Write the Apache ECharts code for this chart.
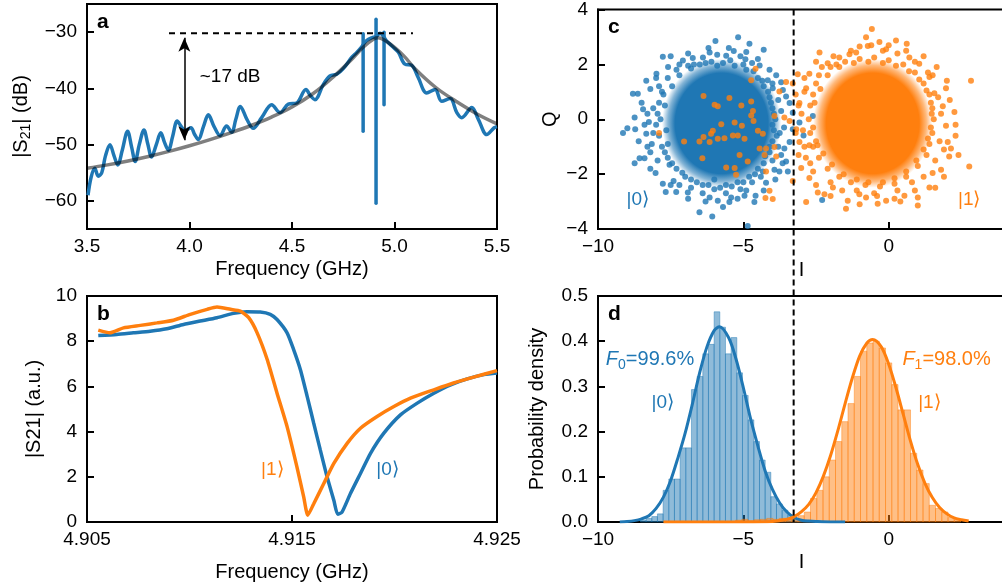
<!DOCTYPE html>
<html><head><meta charset="utf-8">
<script src="https://cdn.jsdelivr.net/npm/echarts@6/dist/echarts.min.js"></script>
<style>html,body{margin:0;padding:0;overflow:hidden;background:#fff}#c{width:1010px;height:588px}</style>
</head><body><div id="c"></div>
<script>
// ---------- Panel a : transmission spectrum ----------
const aFreq = [3.505,3.52,3.538,3.555,3.572,3.59,3.612,3.632,3.650,3.672,3.698,3.718,3.735,3.755,3.778,3.796,3.815,3.838,3.860,3.878,3.897,3.918,3.940,3.960,3.978,4.007,4.025,4.043,4.068,4.092,4.120,4.149,4.181,4.206,4.226,4.248,4.280,4.311,4.352,4.401,4.441,4.482,4.523,4.568,4.590,4.612,4.653,4.685,4.718,4.750,4.791,4.816,4.840,4.864,4.889,4.910,4.929,4.962,4.994,5.019,5.051,5.084,5.116,5.157,5.198,5.230,5.271,5.304,5.328,5.377,5.409,5.45,5.486,5.50];
const aS21 = [-59.0,-55.8,-54.2,-55.6,-55.0,-52.0,-50.0,-52.0,-53.6,-51.0,-47.6,-50.5,-53.0,-50.0,-47.4,-49.8,-52.2,-50.0,-47.9,-49.6,-51.0,-48.5,-45.8,-46.8,-47.5,-47.0,-48.2,-49.1,-46.8,-44.7,-46.8,-48.4,-46.7,-47.8,-45.5,-43.2,-45.5,-47.1,-45.2,-42.9,-44.3,-42.8,-42.6,-40.2,-41.3,-42.0,-39.3,-37.8,-37.5,-36.5,-34.5,-33.6,-32.6,-31.5,-31.0,-30.8,-30.2,-31.6,-32.7,-33.6,-35.7,-35.9,-38.1,-40.8,-40.2,-42.3,-41.8,-44.3,-45.2,-43.4,-45.5,-48.2,-47.0,-46.8];
const spikeFreq = [4.847, 4.910, 4.949];
const spikeTop = [-30.3, -27.7, -30.0];
const spikeBottom = [-47.6, -60.4, -42.9];
const aFitFreq = [3.5,3.6,3.7,3.8,3.9,4.0,4.1,4.2,4.3,4.4,4.5,4.6,4.7,4.8,4.85,4.9,4.92,4.95,5.0,5.05,5.1,5.2,5.3,5.4,5.5];
const aFitDb = [-54.2,-53.6,-52.9,-52.1,-51.2,-50.2,-49.1,-47.9,-46.6,-45.1,-43.3,-41.0,-38.0,-34.5,-32.6,-31.2,-31.0,-31.4,-32.7,-34.4,-36.5,-39.8,-42.3,-44.5,-46.3];
const aRefLevel = -30.2, aRefFrom = 3.9, aRefTo = 5.09;
const aArrowF = 3.975, aArrowTop = -31.0, aArrowBottom = -49.2;
const aXTicks = [3.5,4.0,4.5,5.0,5.5];
const aYTicks = [-60,-50,-40,-30];

// ---------- Panel b : resonator dip for |0> and |1> ----------
const bFreq0 = [4.90555,4.90645,4.90726,4.90808,4.90889,4.90971,4.91052,4.91134,4.91215,4.9128,4.91345,4.91394,4.91427,4.91476,4.91508,4.91541,4.91574,4.91606,4.91638,4.91671,4.91704,4.91723,4.91744,4.91785,4.91834,4.91883,4.91948,4.92029,4.92111,4.92192,4.92274,4.92355,4.92436,4.925];
const bAmp0 = [8.25,8.30,8.37,8.44,8.55,8.74,8.89,9.04,9.23,9.30,9.29,9.19,8.96,8.37,7.63,6.74,5.56,4.37,3.19,2.00,0.96,0.34,0.44,1.26,2.15,3.04,3.93,4.74,5.26,5.70,6.07,6.33,6.52,6.59];
const bFreq1 = [4.90555,4.90612,4.90678,4.9076,4.90841,4.90922,4.91004,4.91086,4.91134,4.912,4.91248,4.91289,4.9133,4.91379,4.91427,4.91476,4.91524,4.91557,4.91577,4.91606,4.91655,4.91704,4.91769,4.91834,4.91915,4.91997,4.92078,4.92192,4.92288,4.92386,4.925];
const bAmp1 = [8.49,8.37,8.59,8.70,8.81,8.93,9.19,9.41,9.51,9.41,9.33,9.04,8.37,7.19,5.70,4.22,2.44,1.11,0.30,0.81,1.70,2.59,3.48,4.15,4.67,5.11,5.48,5.85,6.15,6.41,6.70];
const bXTicks = [4.905,4.915,4.925];

// ---------- Panel c : IQ single-shot clouds ----------
const thresholdI = -3.27;
const blueCore = [[-5.75,-0.15,2.05,2.35]];
const orangeCore = [[-0.55,-0.15,2.05,2.35]];
const blueDots = [[-5.96,2.85],[-5.18,2.99],[-4.79,2.75],[-4.30,2.53],[-5.33,2.49],[-6.16,2.43],[-7.77,2.28],[-6.39,2.25],[-8.34,1.40],[-7.99,1.66],[-7.59,1.90],[-7.08,2.14],[-6.74,2.23],[-5.59,2.31],[-4.93,2.19],[-4.44,1.96],[-3.87,1.60],[-8.80,0.93],[-8.63,0.93],[-8.45,0.36],[-8.74,0.06],[-8.99,-0.33],[-9.14,-0.50],[-8.72,-0.36],[-8.34,-0.53],[-8.57,-1.42],[-8.74,-1.60],[-8.40,-1.42],[-8.02,-1.96],[-7.54,-1.66],[-7.77,-2.35],[-7.67,-2.65],[-7.31,-2.65],[-6.91,-2.67],[-6.51,-3.39],[-6.07,-3.54],[-6.16,-2.85],[-5.88,-2.97],[-5.48,-3.02],[-5.42,-2.85],[-4.96,-2.79],[-4.62,-3.02],[-4.58,-2.79],[-4.85,-3.89],[-4.22,-2.31],[-4.33,-1.90],[-3.93,-1.84],[-3.76,-1.90],[-3.47,-1.90],[-2.29,-2.94],[-3.41,-0.83],[-3.59,-1.07],[-3.53,-1.54],[-3.70,-1.30],[-3.30,-0.36],[-3.30,0.24],[-3.41,0.59],[-3.53,0.83],[-3.64,1.07],[-3.99,1.13],[-4.16,1.42],[-2.61,0.12],[-2.93,-0.59],[-3.07,-0.12],
[-7.6,1.5],[-7.3,1.8],[-6.9,1.95],[-6.5,2.0],[-6.1,2.1],[-5.7,2.05],[-5.3,1.95],[-4.9,1.8],[-4.5,1.5],[-4.3,1.2],[-4.1,0.8],[-4.0,0.4],[-3.9,0.0],[-3.95,-0.4],[-4.0,-0.8],[-4.1,-1.2],[-4.3,-1.6],[-4.6,-2.0],[-5.0,-2.3],[-5.4,-2.45],[-5.8,-2.5],[-6.2,-2.4],[-6.6,-2.3],[-7.0,-2.1],[-7.3,-1.8],[-7.6,-1.4],[-7.8,-1.0],[-7.9,-0.6],[-8.0,-0.2],[-7.95,0.2],[-7.9,0.6],[-7.8,1.0],
[-8.2,1.1],[-8.1,0.4],[-8.25,-0.1],[-8.15,-0.9],[-7.95,-1.5],[-7.4,-2.25],[-6.8,-2.5],[-6.4,-2.7],[-5.6,-2.7],[-5.1,-2.55],[-4.7,-2.3],[-4.4,-2.1],[-4.0,-1.5],[-3.8,-1.0],[-3.75,-0.5],[-3.7,0.3],[-3.8,0.7],[-4.0,1.3],[-4.7,2.05],[-5.1,2.3],[-5.9,2.35],[-6.7,2.0],[-7.2,2.0],[-7.9,1.2],[-8.5,0.6],[-8.4,-0.2],[-8.2,-1.2],[-7.2,-2.4],[-6.0,-2.2],[-4.9,-2.6],
[-7.7,0.5],[-7.65,-0.4],[-7.6,-0.9],[-7.45,1.2],[-7.2,1.6],[-6.8,1.85],[-6.3,2.05],[-5.9,1.95],[-5.45,2.15],[-5.0,2.0],[-4.65,1.75],[-4.35,1.4],[-4.15,1.0],[-4.05,0.6],[-3.95,0.2],[-4.0,-0.2],[-3.85,-0.6],[-4.1,-1.0],[-4.25,-1.35],[-4.5,-1.8],[-4.8,-2.1],[-5.2,-2.3],[-5.6,-2.4],[-6.0,-2.55],[-6.4,-2.4],[-6.8,-2.2],[-7.1,-1.95],[-7.45,-1.6],[-7.7,-1.2],[-7.85,0.0],[-7.75,0.9],
[-8.3,0.2],[-8.1,-0.5],[-8.3,-1.0],[-8.0,1.5],[-7.5,2.3],[-6.9,2.4],[-6.2,2.6],[-5.5,2.6],[-4.9,2.45],[-4.5,2.2],[-4.1,1.8],[-3.7,1.35],[-3.6,-0.3],[-3.65,-1.6],[-3.9,-2.2],[-4.3,-2.6],[-5.2,-2.9],[-5.7,-3.2],[-6.3,-3.0],[-6.9,-2.9],[-7.5,-2.4],[-8.2,-1.8],[-8.6,-0.8]];
const orangeDots = [[-0.58,3.29],[-0.78,2.99],[0.25,2.87],[0.62,2.75],[-0.32,2.82],[-0.09,2.55],[-0.72,2.67],[-1.12,2.43],[-1.70,2.25],[-2.38,2.43],[-2.10,2.04],[-2.73,1.66],[-3.13,1.64],[-3.30,1.30],[-3.53,1.36],[-3.76,1.01],[-2.84,1.13],[-1.35,2.37],[0.71,2.25],[1.05,2.02],[1.40,1.54],[1.51,1.60],[1.97,1.13],[1.57,0.95],[2.26,0.26],[1.86,0.47],[2.83,1.40],[1.97,-0.24],[2.03,-0.83],[2.08,-1.36],[2.14,-1.07],[2.77,-1.72],[1.80,-1.84],[1.51,-1.96],[1.40,-2.49],[1.00,-2.85],[1.00,-3.14],[0.54,-2.79],[-0.09,-2.97],[-0.38,-3.08],[-0.78,-2.85],[-1.01,-2.73],[-1.41,-2.97],[-1.47,-3.26],[-1.92,-2.49],[-2.21,-2.73],[-2.44,-2.67],[-2.84,-3.02],[-2.73,-2.14],[-3.01,-1.78],[-3.30,-2.25],[-3.99,-2.91],[-4.24,-2.87],[-4.10,-2.61],[-4.22,-1.90],[-3.07,-0.83],[-3.18,-0.36],[-3.41,-0.06],[-3.59,0.06],[-3.07,0.59],[-2.73,-0.95],
[-2.4,1.6],[-2.0,1.9],[-1.5,2.1],[-1.0,2.2],[-0.5,2.25],[0.0,2.15],[0.5,2.0],[0.9,1.7],[1.2,1.3],[1.4,0.9],[1.5,0.4],[1.55,0.0],[1.5,-0.5],[1.4,-0.9],[1.3,-1.3],[1.0,-1.7],[0.6,-2.1],[0.2,-2.35],[-0.3,-2.45],[-0.8,-2.4],[-1.3,-2.3],[-1.7,-2.1],[-2.1,-1.8],[-2.4,-1.4],[-2.6,-1.0],[-2.7,-0.5],[-2.75,0.0],[-2.7,0.5],[-2.6,0.9],[-2.5,1.3],
[-2.9,1.0],[-3.0,0.2],[-2.95,-0.4],[-2.85,-1.4],[-2.6,-1.9],[-2.0,-2.3],[-1.1,-2.6],[-0.5,-2.7],[0.3,-2.6],[0.8,-2.3],[1.2,-2.1],[1.6,-1.5],[1.75,-0.8],[1.8,0.2],[1.7,0.8],[1.35,1.7],[0.9,2.1],[0.3,2.4],[-0.2,2.5],[-1.3,2.5],[-1.8,2.0],[-2.3,1.9],[-2.9,-1.0],[-3.2,0.9],[1.9,-1.1],[0.2,-2.9],[-0.6,2.7],
[-2.55,0.6],[-2.6,-0.3],[-2.5,-0.8],[-2.35,1.1],[-2.1,1.6],[-1.7,1.9],[-1.2,2.05],[-0.7,2.1],[-0.2,2.05],[0.25,1.95],[0.7,1.75],[1.05,1.45],[1.3,1.05],[1.45,0.6],[1.48,0.2],[1.45,-0.3],[1.35,-0.7],[1.2,-1.1],[0.95,-1.5],[0.6,-1.9],[0.2,-2.15],[-0.2,-2.3],[-0.7,-2.3],[-1.1,-2.2],[-1.55,-2.0],[-1.95,-1.65],[-2.25,-1.25],[-2.45,-0.95],
[-3.1,0.5],[-3.2,-0.5],[-3.1,-1.3],[-2.9,1.5],[-2.5,2.1],[-1.9,2.3],[-1.0,2.65],[0.0,2.7],[0.6,2.5],[1.2,2.3],[1.65,1.9],[2.0,1.4],[2.1,0.7],[2.3,-0.2],[2.3,-0.6],[2.4,-1.3],[1.9,-2.1],[1.6,-2.5],[0.9,-2.6],[0.4,-3.0],[-0.4,-2.8],[-1.0,-3.1],[-1.6,-2.6],[-2.0,-2.8],[-2.5,-2.4],[-2.7,-1.6],
[-4.58,1.84],[-4.73,1.42],[-6.37,0.85],[-5.99,0.53],[-5.88,0.47],[-5.48,0.77],[-5.07,0.50],[-4.73,0.65],[-4.67,0.30],[-4.73,0.14],[-4.65,-0.06],[-5.30,-0.12],[-5.76,-0.18],[-5.05,-0.24],[-6.05,-0.42],[-6.11,-0.53],[-6.37,-0.65],[-5.88,-0.71],[-5.65,-0.69],[-5.36,-0.59],[-5.19,-0.59],[-4.96,-0.71],[-6.51,-0.81],[-6.16,-0.83],[-7.04,-0.81],[-7.90,-0.50],[-4.50,-0.42],[-4.33,-0.53],[-4.44,-1.07],[-4.22,-1.07],[-3.93,-1.01],[-5.13,-1.30],[-4.85,-1.54],[-4.27,-1.30],[-6.41,-1.42],[-5.59,-1.76],[-5.30,-1.78],[-5.25,-2.02],[-3.87,-1.36],[-3.93,0.12]];
const cdXTicks = [-10,-5,0];

// ---------- Panel d : histograms and fits ----------
const binWidth0 = 0.195;
const histLeft0 = [-8.54,-8.345,-8.15,-7.955,-7.76,-7.565,-7.37,-7.175,-6.98,-6.785,-6.59,-6.395,-6.20,-6.005,-5.81,-5.615,-5.42,-5.225,-5.03,-4.835,-4.64,-4.445,-4.25,-4.055,-3.86,-3.665,-3.47,-3.275,-3.08,-2.885];
const histHeight0 = [0.004,0.008,0.012,0.018,0.070,0.095,0.095,0.164,0.164,0.293,0.322,0.372,0.393,0.465,0.431,0.372,0.408,0.330,0.280,0.226,0.178,0.137,0.110,0.056,0.040,0.026,0.015,0.006,0.004,0.002];
const binWidth1 = 0.215;
const histLeft1 = [-5.27,-5.055,-4.84,-4.625,-4.41,-4.195,-3.98,-3.765,-3.55,-3.335,-3.12,-2.905,-2.69,-2.475,-2.26,-2.045,-1.83,-1.615,-1.40,-1.185,-0.97,-0.755,-0.54,-0.325,-0.11,0.105,0.32,0.535,0.75,0.965,1.18,1.395,1.61,1.825,2.04,2.255];
const histHeight1 = [0.004,0.006,0.003,0.005,0.006,0.008,0.006,0.008,0.006,0.008,0.014,0.022,0.052,0.070,0.100,0.137,0.178,0.222,0.262,0.322,0.378,0.396,0.400,0.385,0.352,0.304,0.248,0.248,0.152,0.115,0.085,0.037,0.030,0.022,0.010,0.005];
const fitI0 = [-9.25,-9.0,-8.75,-8.5,-8.25,-8.0,-7.75,-7.5,-7.25,-7.0,-6.75,-6.5,-6.25,-6.0,-5.82,-5.5,-5.25,-5.0,-4.75,-4.5,-4.25,-4.0,-3.75,-3.5,-3.25,-3.0,-2.75,-2.5,-2.0,-1.5];
const fitP0 = [0.000,0.001,0.003,0.007,0.014,0.030,0.055,0.092,0.142,0.197,0.262,0.331,0.388,0.424,0.432,0.407,0.360,0.297,0.228,0.168,0.113,0.072,0.042,0.022,0.010,0.004,0.002,0.001,0.000,0.000];
const fitI1 = [-7.75,-6.0,-5.0,-4.0,-3.5,-3.25,-3.0,-2.75,-2.5,-2.25,-2.0,-1.75,-1.5,-1.25,-1.0,-0.75,-0.55,-0.25,0.0,0.25,0.5,0.75,1.0,1.25,1.5,1.75,2.0,2.25,2.5,2.75];
const fitP1 = [0.000,0.000,0.000,0.001,0.006,0.012,0.023,0.039,0.065,0.101,0.147,0.202,0.262,0.319,0.367,0.396,0.404,0.387,0.349,0.297,0.238,0.179,0.127,0.085,0.054,0.032,0.018,0.009,0.005,0.002];

// ---------- styles ----------
const FONT = '"Liberation Sans", Arial, sans-serif';
const BLUE = '#1f77b4', ORANGE = '#ff7f0e';
const minus = v => String(v).replace('-', '\u2212');

function xAx(grid, min, max, ticks, fmt, name, gap) {
  return {
    type: 'value', gridIndex: grid, min, max,
    name, nameLocation: 'middle', nameGap: gap,
    nameTextStyle: { fontFamily: FONT, fontSize: 20, color: '#000' },
    axisLine: { show: true, onZero: false, lineStyle: { color: '#000', width: 2 } },
    axisTick: { show: true, inside: true, length: 7, customValues: ticks, lineStyle: { color: '#000', width: 2 } },
    axisLabel: { show: true, customValues: ticks, margin: 8, fontFamily: FONT, fontSize: 19, color: '#000', formatter: fmt },
    splitLine: { show: false }
  };
}
function yAx(grid, min, max, ticks, fmt, name, gap, rich) {
  const o = xAx(grid, min, max, ticks, fmt, name, gap);
  o.axisLabel.margin = 10;
  if (rich) o.nameTextStyle.rich = rich;
  return o;
}
const gridBox = { show: true, borderColor: '#000', borderWidth: 2, backgroundColor: 'transparent' };

const series = [];
// a
series.push({ type: 'line', xAxisIndex: 0, yAxisIndex: 0, data: aFreq.map((f, i) => [f, aS21[i]]), smooth: 0.35, showSymbol: false, lineStyle: { color: BLUE, width: 3.5 }, z: 2 });
spikeFreq.forEach((f, i) => {
  series.push({ type: 'line', xAxisIndex: 0, yAxisIndex: 0, data: [[f, spikeTop[i]], [f, spikeBottom[i]]], showSymbol: false, lineStyle: { color: BLUE, width: 3.5, cap: 'round' }, z: 2 });
});
series.push({ type: 'line', xAxisIndex: 0, yAxisIndex: 0, data: aFitFreq.map((f, i) => [f, aFitDb[i]]), smooth: 0.4, showSymbol: false, lineStyle: { color: 'rgba(0,0,0,0.5)', width: 3.5 }, z: 3 });
series.push({ type: 'line', xAxisIndex: 0, yAxisIndex: 0, data: [[aRefFrom, aRefLevel], [aRefTo, aRefLevel]], showSymbol: false, lineStyle: { color: '#000', width: 1.8, type: [6, 5] }, z: 4,
  markLine: { silent: true, symbol: ['arrow', 'arrow'], symbolSize: [9, 14], label: { show: false }, lineStyle: { color: '#000', width: 1.5, type: 'solid' },
    data: [[{ coord: [aArrowF, aArrowTop] }, { coord: [aArrowF, aArrowBottom] }]] } });
// b
series.push({ type: 'line', xAxisIndex: 1, yAxisIndex: 1, data: bFreq0.map((f, i) => [f, bAmp0[i]]), smooth: 0.2, showSymbol: false, lineStyle: { color: BLUE, width: 3.5 }, z: 2 });
series.push({ type: 'line', xAxisIndex: 1, yAxisIndex: 1, data: bFreq1.map((f, i) => [f, bAmp1[i]]), smooth: 0.2, showSymbol: false, lineStyle: { color: ORANGE, width: 3.5 }, z: 3 });
// c
function coreSeries(data, rgb, z) {
  return { type: 'custom', xAxisIndex: 2, yAxisIndex: 2, data, encode: { x: 0, y: 1 }, z, silent: true,
    renderItem: (p, api) => {
      const c = api.coord([api.value(0), api.value(1)]);
      const s = api.size([api.value(2), api.value(3)]);
      return { type: 'circle', x: c[0], y: c[1], scaleY: s[1] / s[0], shape: { cx: 0, cy: 0, r: s[0] },
        style: { fill: new echarts.graphic.RadialGradient(0.5, 0.5, 0.5, [
          { offset: 0, color: `rgba(${rgb},1)` }, { offset: 0.78, color: `rgba(${rgb},1)` },
          { offset: 0.9, color: `rgba(${rgb},0.55)` }, { offset: 1, color: `rgba(${rgb},0)` }]) } };
    } };
}
series.push(coreSeries(blueCore, '31,119,180', 1));
series.push({ type: 'scatter', xAxisIndex: 2, yAxisIndex: 2, data: blueDots, symbolSize: 6, itemStyle: { color: BLUE, opacity: 0.8 }, z: 2 });
series.push(coreSeries(orangeCore, '255,127,14', 3));
series.push({ type: 'scatter', xAxisIndex: 2, yAxisIndex: 2, data: orangeDots, symbolSize: 6, itemStyle: { color: ORANGE, opacity: 0.8 }, z: 4 });
// d
function histSeries(lefts, heights, w, fill, stroke) {
  return { type: 'custom', xAxisIndex: 3, yAxisIndex: 3, data: lefts.map((l, i) => [l, l + w, heights[i]]), encode: { x: [0, 1], y: 2 }, z: 1, silent: true,
    renderItem: (p, api) => {
      const a = api.coord([api.value(0), api.value(2)]);
      const b = api.coord([api.value(1), 0]);
      return { type: 'rect', shape: { x: a[0], y: a[1], width: b[0] - a[0], height: b[1] - a[1] }, style: { fill, stroke, lineWidth: 0.8 } };
    } };
}
series.push(histSeries(histLeft0, histHeight0, binWidth0, 'rgba(31,119,180,0.5)', 'rgba(31,119,180,0.55)'));
series.push(histSeries(histLeft1, histHeight1, binWidth1, 'rgba(255,127,14,0.5)', 'rgba(255,127,14,0.55)'));
series.push({ type: 'line', xAxisIndex: 3, yAxisIndex: 3, data: fitI0.map((x, i) => [x, fitP0[i]]), smooth: 0.3, showSymbol: false, lineStyle: { color: BLUE, width: 3 }, z: 3 });
series.push({ type: 'line', xAxisIndex: 3, yAxisIndex: 3, data: fitI1.map((x, i) => [x, fitP1[i]]), smooth: 0.3, showSymbol: false, lineStyle: { color: ORANGE, width: 3 }, z: 4 });

const chart = echarts.init(document.getElementById('c'), null, { renderer: 'canvas' });
chart.setOption({
  animation: false,
  backgroundColor: '#fff',
  grid: [
    Object.assign({ left: 87, top: 4, width: 410, height: 225 }, gridBox),
    Object.assign({ left: 87, top: 296, width: 410, height: 226 }, gridBox),
    Object.assign({ left: 598, top: 4, width: 407, height: 225 }, gridBox),
    Object.assign({ left: 598, top: 296, width: 407, height: 226 }, gridBox)
  ],
  xAxis: [
    xAx(0, 3.5, 5.5, aXTicks, v => v.toFixed(1), 'Frequency (GHz)', 30),
    xAx(1, 4.905, 4.925, bXTicks, v => v.toFixed(3), 'Frequency (GHz)', 40),
    xAx(2, -10, 4, cdXTicks, minus, 'I', 31),
    xAx(3, -10, 4, cdXTicks, minus, 'I', 30)
  ],
  yAxis: [
    yAx(0, -65, -25, aYTicks, minus, '|S{sub|21}| (dB)', 54, { sub: { fontSize: 14, fontFamily: FONT, color: '#000', padding: [10, 0, 0, 0] } }),
    yAx(1, 0, 10, [0,2,4,6,8,10], v => String(v), '|S21| (a.u.)', 43),
    yAx(2, -4, 4, [-4,-2,0,2,4], minus, 'Q', 38),
    yAx(3, 0, 0.5, [0,0.1,0.2,0.3,0.4,0.5], v => v.toFixed(1), 'Probability density', 51)
  ],
  series
});

// ---------- annotations placed through the axes ----------
const px = (g, p) => chart.convertToPixel({ gridIndex: g }, p);
const txt = (pos, text, color, extra) => Object.assign({ type: 'text', x: pos[0], y: pos[1], z: 100,
  style: Object.assign({ text, fill: color, font: `19px ${FONT}`, align: 'center', verticalAlign: 'middle' }, extra || {}) });
const letters = [['a', 0, [3.5, -25]], ['b', 1, [4.905, 10]], ['c', 2, [-10, 4]], ['d', 3, [-10, 0.5]]];
const richF = (i, color) => ({ i: { fontStyle: 'italic', fontSize: 20, fontFamily: FONT, fill: color },
  s: { fontSize: 14, fontFamily: FONT, fill: color, padding: [10, 0, 0, 0] }, n: { fontSize: 20, fontFamily: FONT, fill: color } });
const tTop = px(2, [thresholdI, 4]), tBot = px(3, [thresholdI, 0]);
const graphic = [
  { type: 'line', z: 100, shape: { x1: tTop[0], y1: tTop[1], x2: tBot[0], y2: tBot[1] }, style: { stroke: '#000', lineWidth: 2, lineDash: [6, 4] } },
  txt(px(0, [4.05, -37.9]), '~17 dB', '#000', { align: 'left' }),
  txt(px(1, [4.91404, 2.3]), '|1\u27E9', ORANGE),
  txt(px(1, [4.91966, 2.3]), '|0\u27E9', BLUE),
  txt(px(2, [-8.63, -2.95]), '|0\u27E9', BLUE),
  txt(px(2, [2.77, -2.95]), '|1\u27E9', ORANGE),
  txt(px(3, [-7.77, 0.264]), '|0\u27E9', BLUE),
  txt(px(3, [1.40, 0.264]), '|1\u27E9', ORANGE),
  txt(px(3, [-9.73, 0.359]), '{i|F}{s|0}{n|=99.6%}', BLUE, { align: 'left', rich: richF(0, BLUE) }),
  txt(px(3, [0.47, 0.359]), '{i|F}{s|1}{n|=98.0%}', ORANGE, { align: 'left', rich: richF(1, ORANGE) })
];
letters.forEach(([l, g, corner]) => {
  const p = px(g, corner);
  graphic.push({ type: 'text', x: p[0] + 10, y: p[1] + 18, z: 100, style: { text: l, fill: '#000', font: `bold 21px ${FONT}`, align: 'left', verticalAlign: 'middle' } });
});
chart.setOption({ graphic });
</script></body></html>
